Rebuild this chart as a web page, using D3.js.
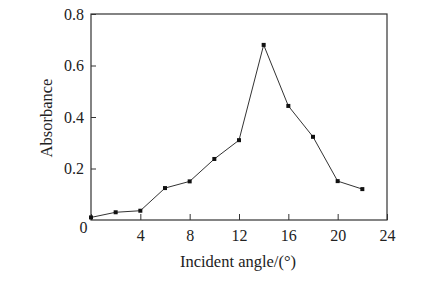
<!DOCTYPE html>
<html>
<head>
<meta charset="utf-8">
<script src="https://cdn.jsdelivr.net/npm/d3@7"></script>
<style>
  body { margin: 0; background: #fff; }
</style>
</head>
<body>
<svg id="chart"></svg>
<script>
var angles = [0, 2, 4, 6, 8, 10, 12, 14, 16, 18, 20, 22];
var absorbance = [0.01, 0.03, 0.036, 0.124, 0.15, 0.237, 0.31, 0.68, 0.443, 0.323, 0.151, 0.12];
var xTicks = [0, 4, 8, 12, 16, 20, 24];
var yTicks = [0.2, 0.4, 0.6, 0.8];

var serif = "'Liberation Serif', 'Times New Roman', serif";
var svgWidth = 438, svgHeight = 281;
var margin = { top: 14, right: 51, bottom: 61, left: 91 };
var width = svgWidth - margin.left - margin.right;
var height = svgHeight - margin.top - margin.bottom;

var svg = d3.select("#chart")
    .attr("width", svgWidth)
    .attr("height", svgHeight);

var g = svg.append("g")
    .attr("transform", "translate(" + margin.left + "," + margin.top + ")");

var x = d3.scaleLinear().domain([0, 24]).range([0, width]);
var y = d3.scaleLinear().domain([0, 0.8]).range([height, 0]);

// frame
g.append("rect")
    .attr("width", width)
    .attr("height", height)
    .attr("fill", "none")
    .attr("stroke", "#333")
    .attr("stroke-width", 1.2);

// x axis, ticks inside
var xAxis = g.append("g")
    .attr("transform", "translate(0," + height + ")")
    .call(d3.axisBottom(x).tickValues(xTicks).tickSizeInner(-6).tickSizeOuter(0)
        .tickFormat(function(d) { return d; }));
xAxis.attr("font-family", serif).attr("font-size", 16);
xAxis.select(".domain").remove();
xAxis.selectAll("line").attr("stroke", "#333");
xAxis.selectAll("text")
    .attr("fill", "#222")
    .attr("y", 10)
    .attr("x", function(d) { return d === 0 ? -8 : 0; })
    .attr("dy", function(d) { return d === 0 ? "0.2em" : "0.71em"; });

// y axis, ticks inside
var yAxis = g.append("g")
    .call(d3.axisLeft(y).tickValues(yTicks).tickSizeInner(-5).tickSizeOuter(0)
        .tickFormat(d3.format(".1f")));
yAxis.attr("font-family", serif).attr("font-size", 16);
yAxis.select(".domain").remove();
yAxis.selectAll("line").attr("stroke", "#333");
yAxis.selectAll("text")
    .attr("fill", "#222")
    .attr("x", -7);

// axis titles
svg.append("text")
    .attr("x", margin.left + width / 2 - 1)
    .attr("y", 267)
    .attr("text-anchor", "middle")
    .attr("font-family", serif)
    .attr("font-size", 16.5)
    .attr("fill", "#222")
    .text("Incident angle/(°)");

svg.append("text")
    .attr("transform", "translate(52," + (margin.top + height / 2 + 1) + ") rotate(-90)")
    .attr("text-anchor", "middle")
    .attr("font-family", serif)
    .attr("font-size", 16.5)
    .attr("fill", "#222")
    .text("Absorbance");

var data = angles.map(function(a, i) { return { angle: a, value: absorbance[i] }; });

var line = d3.line()
    .x(function(d) { return x(d.angle); })
    .y(function(d) { return y(d.value); });

g.append("path")
    .datum(data)
    .attr("fill", "none")
    .attr("stroke", "#333")
    .attr("stroke-width", 1)
    .attr("d", line);

g.selectAll(".pt")
    .data(data)
    .enter().append("rect")
    .attr("class", "pt")
    .attr("x", function(d) { return x(d.angle) - 2; })
    .attr("y", function(d) { return y(d.value) - 2; })
    .attr("width", 4)
    .attr("height", 4)
    .attr("fill", "#111");
</script>
</body>
</html>
